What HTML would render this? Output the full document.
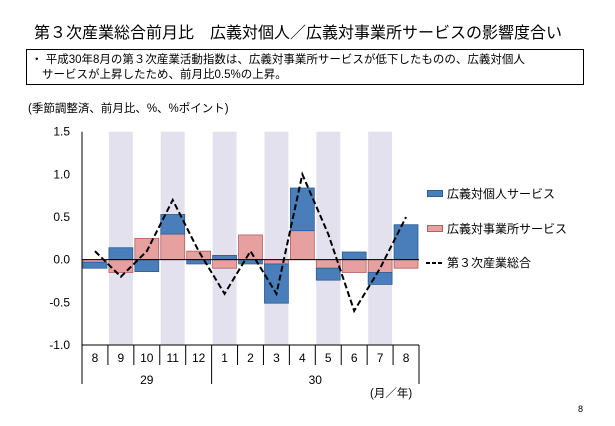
<!DOCTYPE html>
<html><head><meta charset="utf-8">
<style>
body{margin:0;width:615px;height:426px;background:#fff;overflow:hidden;font-family:"Liberation Sans","Noto Sans CJK JP",sans-serif;}
svg{position:absolute;left:0;top:0}
</style></head>
<body>
<svg width="615" height="426" font-family="Liberation Sans, Noto Sans CJK JP, sans-serif">
<text x="34" y="38" font-size="16" fill="#000">第３次産業総合前月比　広義対個人／広義対事業所サービスの影響度合い</text>
<rect x="26.5" y="49.5" width="557" height="35" fill="none" stroke="#000"/>
<text x="31" y="63" font-size="11.5">・ 平成30年8月の第３次産業活動指数は、広義対事業所サービスが低下したものの、広義対個人</text>
<text x="42" y="78" font-size="11.5">サービスが上昇したため、前月比0.5%の上昇。</text>
<text x="28" y="112" font-size="11.5">(季節調整済、前月比、%、%ポイント)</text>
<g id="plot"></g>
<g>
<rect x="427.5" y="190.5" width="15" height="6" fill="#4a7ebb" stroke="#2c5d94"/>
<text x="447" y="198" font-size="12">広義対個人サービス</text>
<rect x="427.5" y="225.5" width="15" height="6" fill="#e6a0a0" stroke="#b06060"/>
<text x="447" y="233" font-size="12">広義対事業所サービス</text>
<line x1="426" y1="263" x2="443" y2="263" stroke="#000" stroke-width="2" stroke-dasharray="4,2"/>
<text x="447" y="267" font-size="12">第３次産業総合</text>
</g>
<text x="370" y="397" font-size="11.5">(月／年)</text>
<text x="578" y="412" font-size="9">8</text>
</svg>
<script>
const months=["8","9","10","11","12","1","2","3","4","5","6","7","8"];
const years=["29","30"];
const yearSpan=[5,8];
const personal=[-0.07,0.14,-0.14,0.23,-0.05,0.05,-0.05,-0.46,0.50,-0.14,0.09,-0.14,0.41];
const business=[-0.03,-0.15,0.25,0.30,0.10,-0.10,0.29,-0.05,0.34,-0.10,-0.15,-0.15,-0.10];
const total=[0.1,-0.2,0.1,0.7,0.1,-0.4,0.1,-0.4,1.0,0.3,-0.6,-0.1,0.5];
const yTicks=[1.5,1.0,0.5,0.0,-0.5,-1.0];
const shaded=[1,3,5,7,9,11];

const NS="http://www.w3.org/2000/svg";
const g=document.getElementById('plot');
const X0=82,X1=419,Y0=131.7,Y1=345,YMAX=1.5,YMIN=-1.0;
const cw=(X1-X0)/months.length;
function y(v){return Y0+(YMAX-v)/(YMAX-YMIN)*(Y1-Y0);}
function xc(i){return X0+cw*(i+0.5);}
function mk(tag,attrs){const e=document.createElementNS(NS,tag);for(const k in attrs)e.setAttribute(k,attrs[k]);g.appendChild(e);return e;}

shaded.forEach(i=>{
  const r=mk('rect',{x:X0+cw*i+1,y:Y0,width:cw-2,height:Y1-Y0,fill:'#e4e1ee'});
  
  
});
// axes
const ya=mk('line',{x1:X0,y1:Y0,x2:X0,y2:Y1,stroke:'#000'});


yTicks.forEach(t=>{
  const tx=mk('text',{x:X0-12,y:y(t)+4,'font-size':12,'text-anchor':'end'});
  tx.textContent=t.toFixed(1);
  
  
});
// bars
months.forEach((m,i)=>{
  const bx=X0+cw*i+1,bw=cw-2;
  let pos=0,neg=0;
  [[business[i],'#e6a0a0','#b06060','bar-business'],[personal[i],'#4a7ebb','#2c5d94','bar-personal']].forEach(([v,f,s,n])=>{
    let a,b;
    if(v>=0){a=pos;b=pos+v;pos=b;}else{a=neg;b=neg+v;neg=b;}
    const r=mk('rect',{x:bx,y:Math.min(y(a),y(b)),width:bw,height:Math.abs(y(a)-y(b)),fill:f,stroke:s,'stroke-width':0.8});
    
    
  });
});
const zl=mk('line',{x1:X0,y1:y(0),x2:X1,y2:y(0),stroke:'#000'});


const pts=total.map((v,i)=>xc(i)+','+y(v)).join(' ');
const pl=mk('polyline',{points:pts,fill:'none',stroke:'#000','stroke-width':2,'stroke-dasharray':'6,3'});


// x axis
const xa=mk('line',{x1:X0,y1:Y1,x2:X1,y2:Y1,stroke:'#000'});


for(let i=0;i<=months.length;i++){
  const l=mk('line',{x1:X0+cw*i,y1:Y1,x2:X0+cw*i,y2:365,stroke:'#000'});
  
  
}
months.forEach((m,i)=>{
  const t=mk('text',{x:xc(i),y:362,'font-size':12,'text-anchor':'middle'});
  t.textContent=m;
  
  
});
let s=0;
years.forEach((yr,k)=>{
  const l=mk('line',{x1:X0+cw*s,y1:365,x2:X0+cw*s,y2:384,stroke:'#000'});
  
  
  const t=mk('text',{x:X0+cw*(s+yearSpan[k]/2),y:384,'font-size':12,'text-anchor':'middle'});
  t.textContent=yr;
  
  
  s+=yearSpan[k];
});
const le=mk('line',{x1:X0+cw*s,y1:365,x2:X0+cw*s,y2:384,stroke:'#000'});


</script>
</body></html>
